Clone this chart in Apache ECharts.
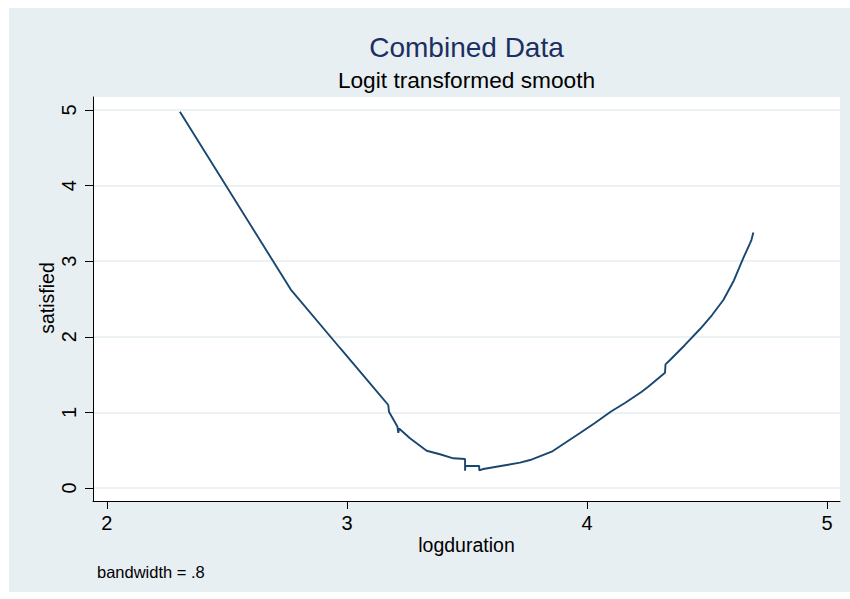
<!DOCTYPE html>
<html>
<head>
<meta charset="utf-8">
<script src="https://cdn.jsdelivr.net/npm/echarts@6/dist/echarts.min.js"></script>
<style>
html,body{margin:0;padding:0;background:#ffffff;}
#chart{width:850px;height:599px;}
</style>
</head>
<body>
<div id="chart"></div>
<script>
// ---- data ----
const titleText = 'Combined Data';
const subtitleText = 'Logit transformed smooth';
const xAxisTitle = 'logduration';
const yAxisTitle = 'satisfied';
const noteText = 'bandwidth = .8';
const xTicks = [2, 3, 4, 5];
const yTicks = [0, 1, 2, 3, 4, 5];

const logduration = [
  2.304, 2.766, 2.971, 3.096, 3.172, 3.175, 3.210, 3.214, 3.217,
  3.2625, 3.332, 3.3875, 3.443, 3.492, 3.492, 3.493, 3.551, 3.551,
  3.568, 3.665, 3.721, 3.763, 3.853, 3.908, 3.971, 4.033, 4.100, 4.158, 4.228, 4.255,
  4.325, 4.327, 4.346, 4.408, 4.471, 4.521, 4.568, 4.612, 4.651, 4.679, 4.685, 4.693
];
const satisfied = [
  4.978, 2.625, 1.852, 1.385, 1.098, 1.009, 0.813, 0.728, 0.787,
  0.657, 0.493, 0.446, 0.393, 0.384, 0.229, 0.291, 0.291, 0.234,
  0.251, 0.304, 0.335, 0.370, 0.480, 0.595, 0.728, 0.860, 1.012, 1.124, 1.274, 1.340,
  1.525, 1.636, 1.693, 1.892, 2.103, 2.288, 2.487, 2.745, 3.040, 3.237, 3.280, 3.380
];

const seriesData = logduration.map((x, i) => [x, satisfied[i]]);

const chart = echarts.init(document.getElementById('chart'), null, {renderer: 'svg'});
const FONT = '"Liberation Sans", Arial, sans-serif';

chart.setOption({
  animation: false,
  backgroundColor: '#e8eff2',
  textStyle: {fontFamily: FONT},
  grid: {
    left: 93, right: 10, top: 97, bottom: 98,
    show: true, backgroundColor: '#ffffff', borderWidth: 0
  },
  xAxis: {
    type: 'value',
    min: 1.942, max: 5.054,
    axisLine: {show: true, onZero: false, lineStyle: {color: '#000', width: 1}},
    axisTick: {show: true, length: 8, lineStyle: {color: '#000'}, customValues: xTicks},
    axisLabel: {show: true, margin: 12, fontSize: 20, color: '#000', fontFamily: FONT, customValues: xTicks,
      formatter: v => String(v)},
    splitLine: {show: false}
  },
  yAxis: {
    type: 'value',
    min: -0.172, max: 5.172,
    axisLine: {show: true, onZero: false, lineStyle: {color: '#000', width: 1}},
    axisTick: {show: true, length: 8, lineStyle: {color: '#000'}, customValues: yTicks},
    axisLabel: {show: true, rotate: 90, margin: 14, fontSize: 20, color: '#000', fontFamily: FONT, customValues: yTicks,
      formatter: v => String(v)},
    splitLine: {show: true, lineStyle: {color: '#e6eef1', width: 1.5}}
  },
  series: [{
    type: 'line',
    data: seriesData,
    showSymbol: false,
    symbol: 'none',
    lineStyle: {color: '#1a476f', width: 1.9},
    z: 5
  }],
  graphic: [
    {type: 'rect', shape: {x: 0, y: 0, width: 9, height: 599}, style: {fill: '#ffffff'}, z: 100, silent: true},
    {type: 'rect', shape: {x: 0, y: 0, width: 850, height: 8}, style: {fill: '#ffffff'}, z: 100, silent: true},
    {type: 'rect', shape: {x: 0, y: 592, width: 850, height: 7}, style: {fill: '#ffffff'}, z: 100, silent: true},
    {type: 'text', x: 466.5, y: 47.5, z: 100,
      style: {text: titleText, fill: '#1c2f62', font: '28px ' + FONT, textAlign: 'center', textVerticalAlign: 'middle'}},
    {type: 'text', x: 466.5, y: 80, z: 100,
      style: {text: subtitleText, fill: '#000000', font: '22.7px ' + FONT, textAlign: 'center', textVerticalAlign: 'middle'}},
    {type: 'text', x: 466.5, y: 545, z: 100,
      style: {text: xAxisTitle, fill: '#000000', font: '19.5px ' + FONT, textAlign: 'center', textVerticalAlign: 'middle'}},
    {type: 'text', x: 47, y: 298, rotation: Math.PI / 2, z: 100,
      style: {text: yAxisTitle, fill: '#000000', font: '19.5px ' + FONT, textAlign: 'center', textVerticalAlign: 'middle'}},
    {type: 'text', x: 97, y: 572, z: 100,
      style: {text: noteText, fill: '#000000', font: '16.5px ' + FONT, textAlign: 'left', textVerticalAlign: 'middle'}}
  ]
});
</script>
</body>
</html>
